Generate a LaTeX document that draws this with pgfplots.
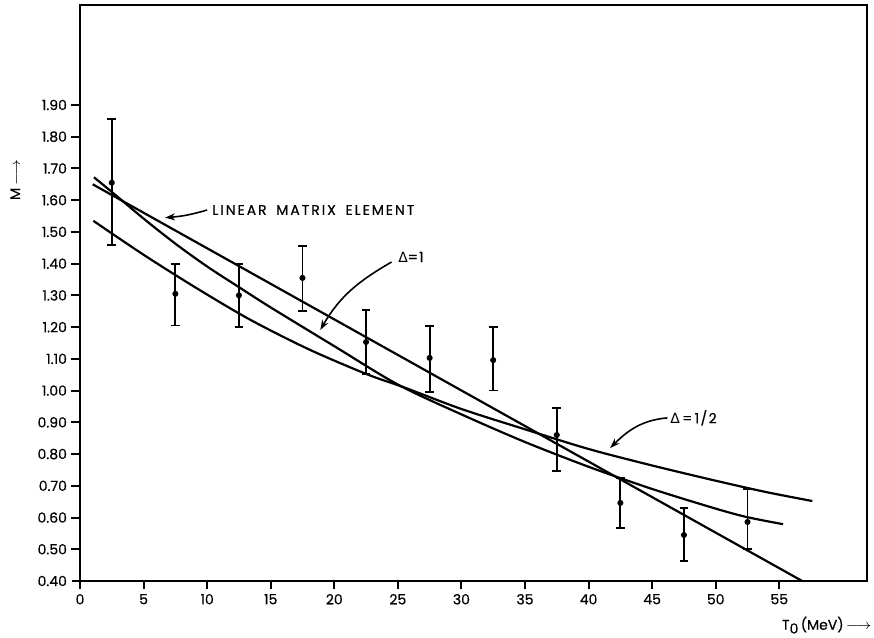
\documentclass[border=0pt]{standalone}
\usepackage{fontspec}
\setmainfont{Poppins}[FakeBold=0.5]
\newfontfamily\djv{DejaVu Sans}
\usepackage{pgfplots}
\pgfplotsset{compat=1.18}
\usetikzlibrary{arrows.meta}
\begin{document}
\fontsize{7pt}{8pt}\selectfont
\begin{tikzpicture}
\begin{axis}[
  scale only axis, width=393.5pt, height=288pt,
  xmin=0, xmax=61.9, ymin=0.40, ymax=2.215,
  clip=false,
  axis line style={line width=1pt},
  xtick pos=bottom, ytick pos=left,
  xtick align=outside, ytick align=outside,
  major tick length=4pt,
  major tick style={black, line width=1pt},
  xtick={0,5,10,15,20,25,30,35,40,45,50,55},
  ytick={0.4,0.5,0.6,0.7,0.8,0.9,1.0,1.1,1.2,1.3,1.4,1.5,1.6,1.7,1.8,1.9},
  /pgf/number format/assume math mode=true,
  yticklabel style={/pgf/number format/.cd, fixed, fixed zerofill, precision=2},
  tick label style={font=\fontsize{7pt}{8pt}\selectfont},
]
% Linear matrix element
\addplot[black, line width=1.1pt, no marks] coordinates {(1.0,1.650) (56.8,0.400)};
% Delta = 1
\addplot[black, line width=1.1pt, no marks, smooth] coordinates {
 (1.1,1.672) (2.5,1.626) (5,1.542) (7.5,1.463) (10,1.391) (12.5,1.326) (15,1.262)
 (20,1.140) (25,1.019) (30,0.925) (35,0.838) (40,0.760) (45,0.690) (50,0.628)
 (52.5,0.601) (55.3,0.579)};
% Delta = 1/2
\addplot[black, line width=1.1pt, no marks, smooth] coordinates {
 (1.05,1.535) (5,1.428) (9.2,1.322) (13.4,1.223) (18,1.130) (22.6,1.051) (25.5,1.010)
 (30,0.942) (35,0.878) (40,0.816) (45,0.764) (50,0.716) (54,0.680) (57.6,0.652)};
% data with error bars
\addplot[black, only marks, mark=*, mark size=1.3pt,
  error bars/.cd, y dir=both, y explicit,
  error bar style={line width=0.9pt},
  error mark options={rotate=90, line width=0.9pt, mark size=2.2pt}] coordinates {
 (2.5,1.655) += (0,0.200) -= (0,0.197)
 (7.5,1.305) += (0,0.095) -= (0,0.100)
 (12.5,1.300) += (0,0.100) -= (0,0.100)
 (17.5,1.355) += (0,0.100) -= (0,0.105)
 (22.5,1.153) += (0,0.101) -= (0,0.101)
 (27.5,1.103) += (0,0.101) -= (0,0.107)
 (32.5,1.096) += (0,0.104) -= (0,0.096)
 (37.5,0.860) += (0,0.085) -= (0,0.113)
 (42.5,0.646) += (0,0.079) -= (0,0.079)
 (47.5,0.545) += (0,0.085) -= (0,0.082)
 (52.5,0.586) += (0,0.104) -= (0,0.086)
};
% explicit tick marks (axis decoration)
\pgfplotsinvokeforeach{5,10,15,20,25,30,35,40,45,50,55}{
  \draw[black, line width=1pt] (axis cs:#1,0.4) -- ++(0pt,-3.5pt);}
\pgfplotsinvokeforeach{0.5,0.6,0.7,0.8,0.9,1.0,1.1,1.2,1.3,1.4,1.5,1.6,1.7,1.8,1.9}{
  \draw[black, line width=1pt] (axis cs:0,#1) -- ++(-4.5pt,0pt);}
% annotations
\node[anchor=west, inner sep=0pt] at (axis cs:10.38,1.569) {\addfontfeatures{LetterSpace=14}LINEAR\hspace{2pt} MATRIX\hspace{2pt} ELEMENT};
\draw[line width=0.8pt, -{Stealth[length=5pt,width=3.5pt]}] (axis cs:10.0,1.569) to[bend left=6] (axis cs:6.69,1.545);
\node[anchor=west, inner sep=0pt] at (axis cs:25.0,1.421) {\addfontfeatures{LetterSpace=8}{\djv Δ}=1};
\draw[line width=0.8pt, -{Stealth[length=5pt,width=3.5pt]}] (axis cs:24.5,1.405) to[out=210,in=60] (axis cs:18.9,1.191);
\node[anchor=west, inner sep=0pt] at (axis cs:46.4,0.914) {\addfontfeatures{LetterSpace=10}{\djv Δ}\,=\,1/2};
\draw[line width=0.8pt, -{Stealth[length=5pt,width=3.5pt]}] (axis cs:46.2,0.914) to[out=185,in=45] (axis cs:41.7,0.819);
\node[rotate=90, inner sep=0pt] at (axis cs:-5.1,1.664) {M\,$\longrightarrow$};
\node[anchor=east, inner sep=0pt] at (axis cs:62.3,0.261) {T\raisebox{-0.5ex}{0}\,(MeV)\,$\longrightarrow$};
% frame for page size
\path ([xshift=-40pt,yshift=-28pt]rel axis cs:0,0) rectangle ([xshift=3.5pt,yshift=2.5pt]rel axis cs:1,1);
\end{axis}
\end{tikzpicture}
\end{document}
